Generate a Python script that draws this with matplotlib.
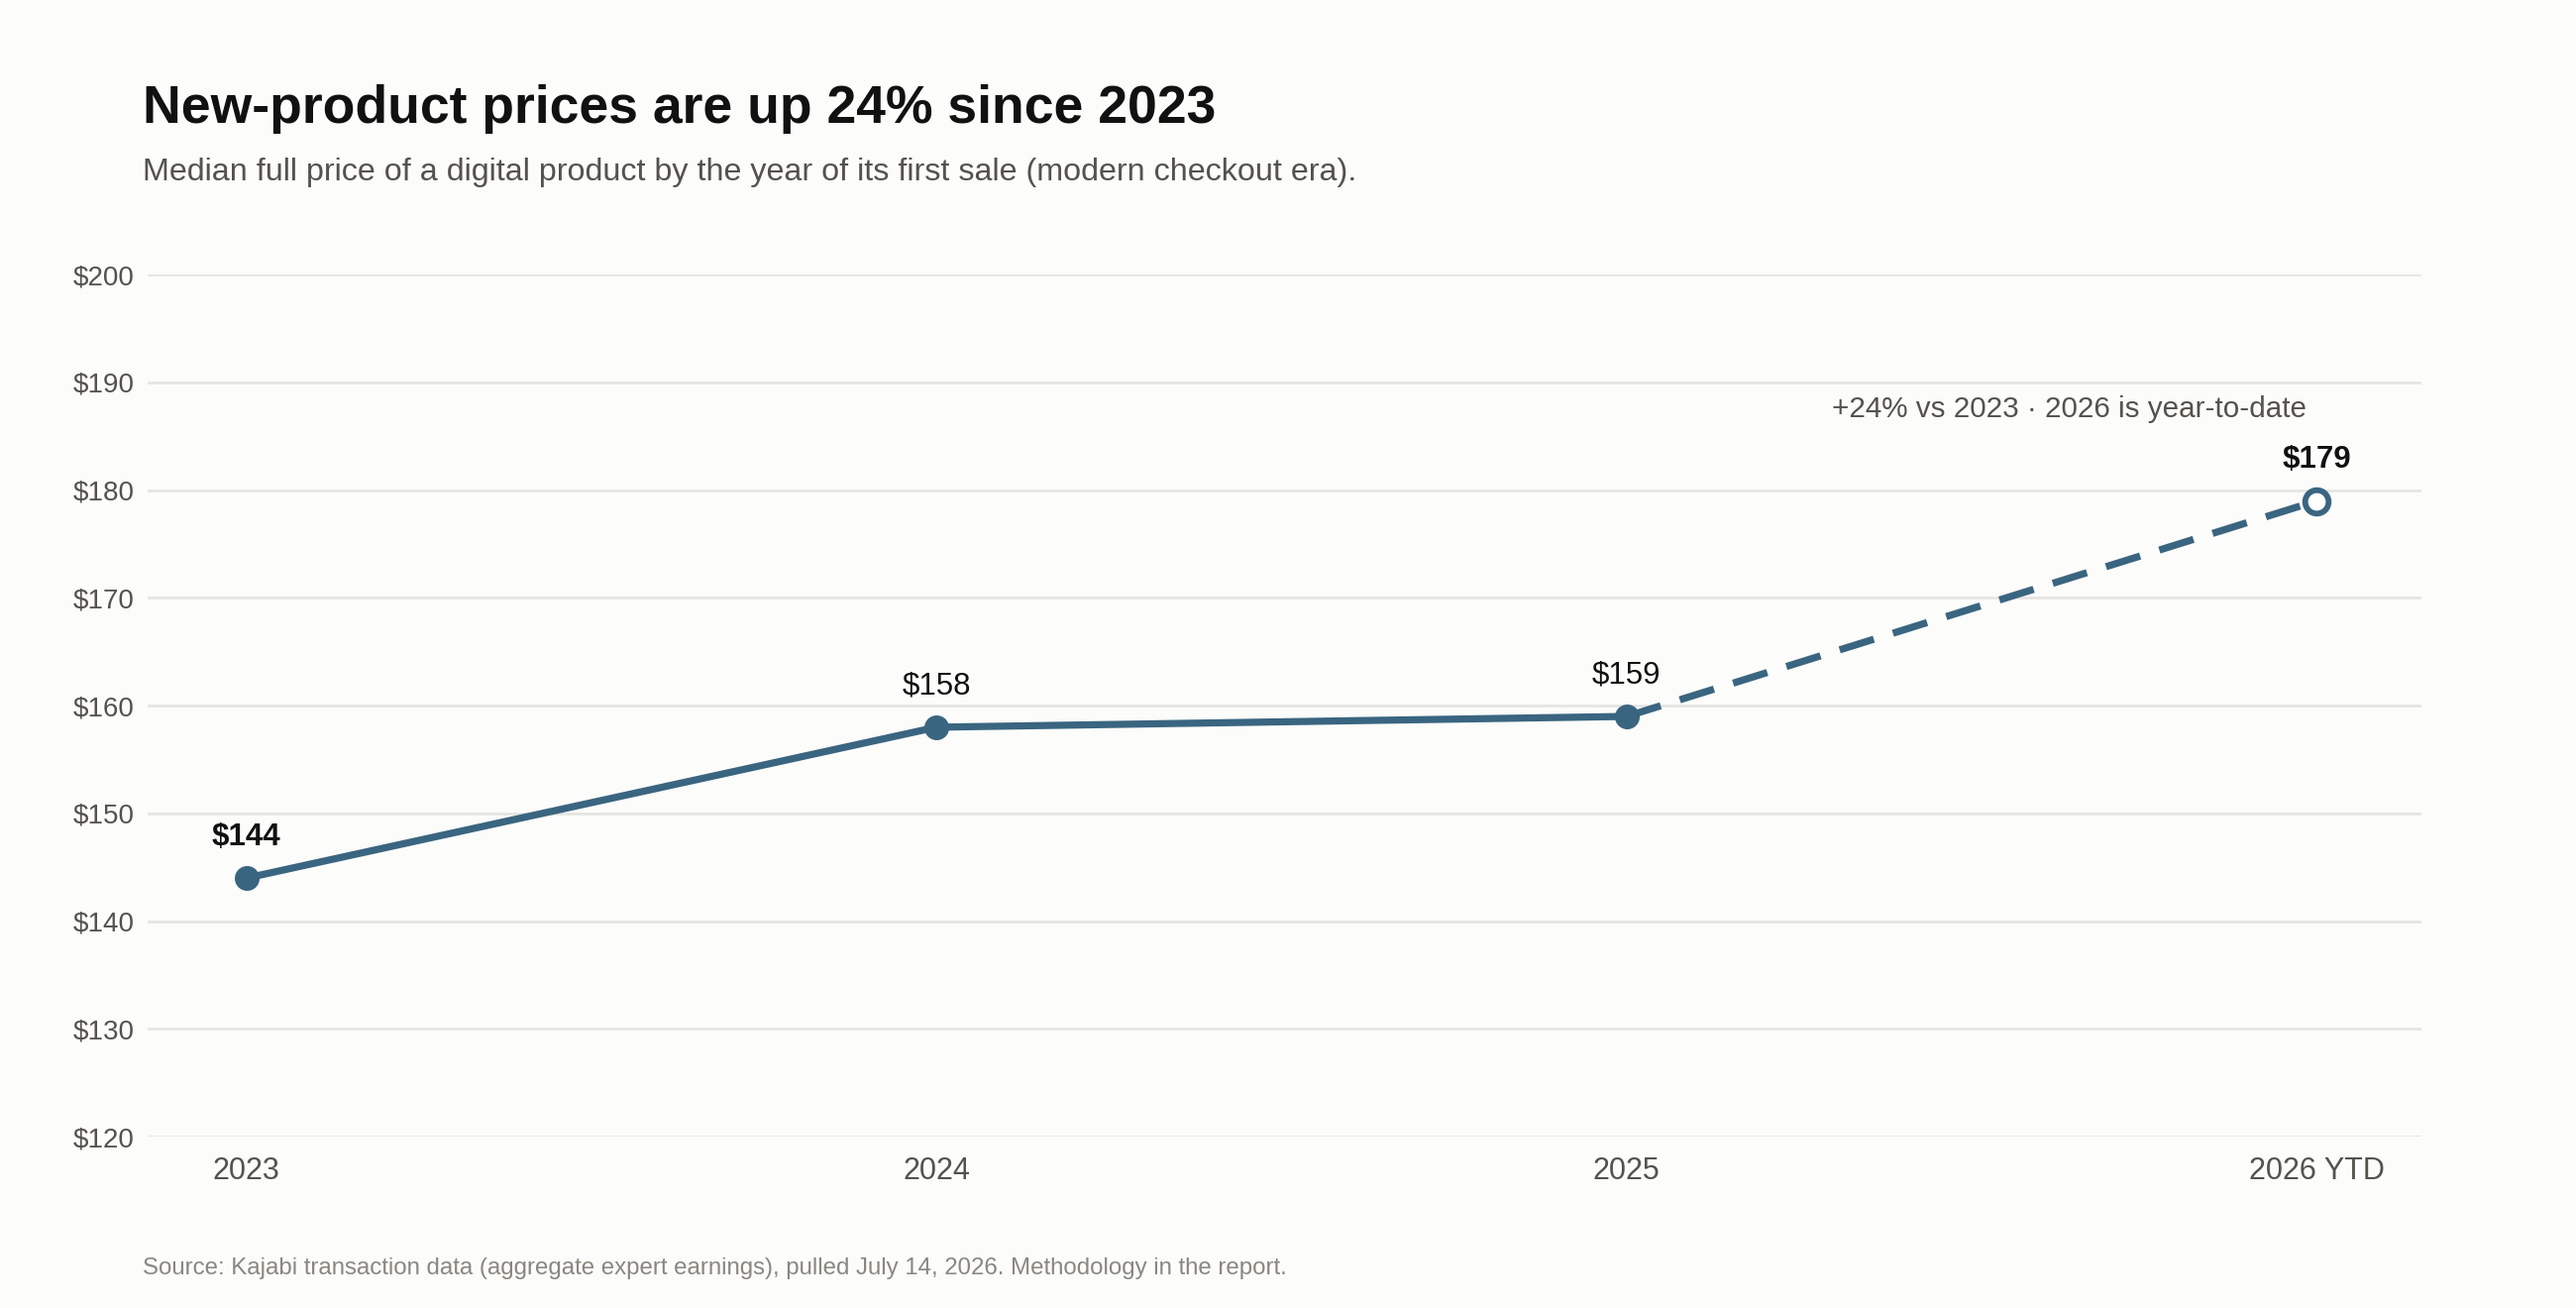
import matplotlib
matplotlib.use("Agg")
import matplotlib.pyplot as plt
from matplotlib.ticker import FuncFormatter

plt.rcParams['font.family'] = ['Liberation Sans', 'DejaVu Sans']

years = ["2023", "2024", "2025", "2026 YTD"]
prices = [144, 158, 159, 179]
label_bold = [True, False, False, True]
yticks = [120, 130, 140, 150, 160, 170, 180, 190, 200]

title = "New-product prices are up 24% since 2023"
subtitle = "Median full price of a digital product by the year of its first sale (modern checkout era)."
source = "Source: Kajabi transaction data (aggregate expert earnings), pulled July 14, 2026. Methodology in the report."
note = "+24% vs 2023 \u00b7 2026 is year-to-date"

bg = "#fcfcfa"
line_c = "#3a6580"
grid_c = "#e4e4e0"

fig = plt.figure(figsize=(26, 13.2), dpi=100, facecolor=bg)
ax = fig.add_axes([0.0574, 0.131, 0.8826, 0.659])
ax.set_facecolor(bg)

x = list(range(len(years)))
ax.plot(x[:3], prices[:3], color=line_c, lw=5.2, solid_capstyle='round', zorder=3)
ax.plot(x[2:], prices[2:], color=line_c, lw=5.2, ls=(0, (5.0, 2.8)), zorder=3)
ax.plot(x[:3], prices[:3], 'o', ms=17, color=line_c, zorder=4)
ax.plot(x[3:], prices[3:], 'o', ms=17, mfc='white', mec=line_c, mew=4.2, zorder=4)

for xi, p, b in zip(x, prices, label_bold):
    ax.annotate(f"${p}", (xi, p), xytext=(0, 19), textcoords='offset points',
                ha='center', va='bottom', fontsize=22.5,
                fontweight='bold' if b else 'normal', color='#111111')

ax.text(2.986, 187.5, note, ha='right', va='center', fontsize=21.3, color='#55524c')

ax.set_xlim(-0.143, 3.152)
ax.set_ylim(120, 200)
ax.set_yticks(yticks)
ax.yaxis.set_major_formatter(FuncFormatter(lambda v, _: f"${v:.0f}"))
ax.set_xticks(x)
ax.set_xticklabels(years)
ax.tick_params(axis='both', length=0, colors='#55524c')
ax.tick_params(axis='y', pad=10, labelsize=20)
ax.tick_params(axis='x', pad=14, labelsize=22)
ax.grid(axis='y', color=grid_c, lw=1.8, zorder=0)
ax.grid(axis='x', visible=False)
for s in ax.spines.values():
    s.set_visible(False)

fig.text(0.0555, 0.917, title, fontsize=38.5, fontweight='bold', color='#111111', va='center')
fig.text(0.0555, 0.868, subtitle, fontsize=23.2, color='#55524c', va='center')
fig.text(0.0555, 0.030, source, fontsize=17.3, color='#8a877f', va='center')

fig.savefig("out.png", dpi=100, facecolor=bg)
